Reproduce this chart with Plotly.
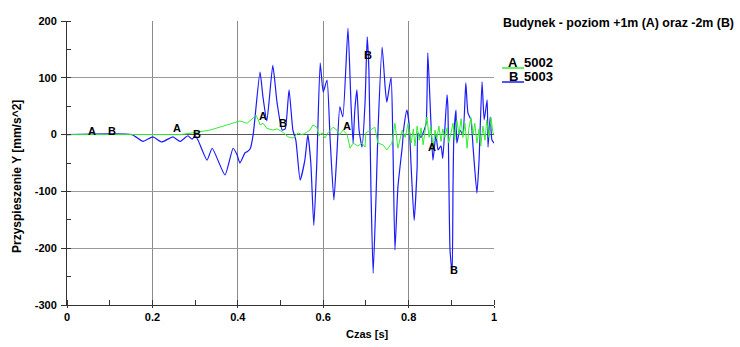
import plotly.graph_objects as go

# ---- data ----
t_b = [0.0, 0.152, 0.178, 0.201, 0.222, 0.248, 0.265, 0.283, 0.293, 0.300, 0.307,
       0.328, 0.340, 0.370, 0.389, 0.398, 0.405, 0.417, 0.422, 0.429, 0.436,
       0.452, 0.459, 0.468, 0.482, 0.492, 0.504, 0.511, 0.520, 0.529, 0.536,
       0.546, 0.557, 0.564, 0.571, 0.578, 0.585, 0.593, 0.600, 0.609, 0.616,
       0.625, 0.632, 0.639, 0.646, 0.658, 0.665, 0.670, 0.674, 0.679, 0.684,
       0.691, 0.698, 0.703, 0.707, 0.712, 0.717, 0.724, 0.728, 0.738, 0.745,
       0.749, 0.759, 0.763, 0.768, 0.775, 0.785, 0.789, 0.796, 0.801, 0.806,
       0.813, 0.820, 0.822, 0.829, 0.834, 0.841, 0.845, 0.852, 0.857, 0.864,
       0.869, 0.876, 0.880, 0.890, 0.892, 0.897, 0.902, 0.904, 0.906, 0.911,
       0.913, 0.920, 0.927, 0.934, 0.939, 0.946, 0.951, 0.960, 0.965, 0.972,
       0.977, 0.984, 0.986, 0.991, 0.995, 1.0]
y_b = [0, 0, -12, -4, -13, -4, -12, -2, -8, -2, -10,
       -45, -24, -71, -24, -35, -50, -32, -30, -25, 0,
       110, 66, 24, 122, 56, 8, 10, 79, 8, -10,
       -80, -45, 0, -50, -160, -50, 126, 75, 96, -5,
       -115, -35, 49, 31, 187, 56, -15, 43, 79, 8,
       -22, 56, 172, 114, -103, -244, -103, 0, 154, 84,
       57, 101, -4, -203, -92, -22, 13, 43, 20, -57,
       -151, -57, 3, -5, 3, 20, 144, 26, -45, 0,
       -27, -20, -42, 70, 49, -203, -244, -92, -4, 43,
       -15, 8, 0, 91, 38, 26, -22, -103, -45, 93,
       26, 61, -22, 31, -9, -15]

t_a = [0.0, 0.152, 0.265, 0.295, 0.335, 0.375, 0.405, 0.422, 0.436, 0.443, 0.450,
       0.452, 0.459, 0.468, 0.482, 0.492, 0.504, 0.518, 0.529, 0.541, 0.550,
       0.557, 0.569, 0.576, 0.585, 0.590, 0.597, 0.604, 0.611, 0.623, 0.632,
       0.639, 0.646, 0.656, 0.663, 0.670, 0.681, 0.691, 0.698, 0.700, 0.721,
       0.728, 0.740, 0.749, 0.761, 0.768, 0.775, 0.785, 0.792, 0.799, 0.806,
       0.811, 0.815, 0.820, 0.825, 0.829, 0.834, 0.838, 0.843, 0.848, 0.852,
       0.857, 0.862, 0.866, 0.871, 0.876, 0.880, 0.885, 0.890, 0.894, 0.899,
       0.904, 0.908, 0.913, 0.918, 0.923, 0.927, 0.932, 0.937, 0.941, 0.946,
       0.951, 0.955, 0.960, 0.965, 0.969, 0.974, 0.979, 0.983, 0.988, 0.993,
       0.997, 1.0]
y_a = [0, 0, 0, 3, 8, 17, 24, 20, 29, 34, 22,
       17, 20, 11, 8, 10, 5, -4, -6, 3, 0,
       2, 8, 17, 13, -2, 3, -6, 3, 13, 8,
       0, 8, 0, -24, -15, -20, -15, -22, 3, 13,
       -15, -18, -27, -15, 20, -24, 8, -5, 20, -15,
       10, -20, 15, -10, 12, -18, 5, 31, -5, 15,
       -25, 8, -8, 15, -12, 10, -5, 12, -15, 5,
       20, -10, 25, 0, 28, -5, 20, -24, 10, 30,
       0, 20, -15, 10, -20, 15, -10, 25, -5, 30,
       5, 0]

label_a_t = [0.059, 0.258, 0.459, 0.656, 0.855]
label_a_y = [0, 5, 26, 8, -29]
label_b_t = [0.105, 0.304, 0.506, 0.705, 0.906]
label_b_y = [0, -6, 13, 133, -245]

x_ticks = [0, 0.2, 0.4, 0.6, 0.8, 1]
x_tick_text = ["0", "0.2", "0.4", "0.6", "0.8", "1"]
y_ticks = [-300, -200, -100, 0, 100, 200]
y_tick_text = ["-300", "-200", "-100", "0", "100", "200"]

title_text = "Budynek - poziom +1m (A) oraz -2m (B)"
series_letters = ["A", "B"]
series_names = ["5002", "5003"]
x_title = "Czas [s]"
y_title = "Przyspieszenie Y [mm/s^2]"

BLUE = "#1a1aff"
GREEN = "#33ee33"
FONT = "Liberation Sans, Arial, sans-serif"

fig = go.Figure()
fig.add_trace(go.Scatter(x=t_b, y=y_b, mode="lines",
                         line=dict(color=BLUE, width=1.2, shape="spline", smoothing=0.5),
                         showlegend=False, hoverinfo="skip"))
fig.add_trace(go.Scatter(x=t_a, y=y_a, mode="lines",
                         line=dict(color=GREEN, width=1, shape="linear"),
                         showlegend=False, hoverinfo="skip"))

annos = []
for tt, yy in zip(label_a_t, label_a_y):
    annos.append(dict(x=tt, y=yy, xref="x", yref="y", text="<b>A</b>", showarrow=False,
                      xanchor="center", yanchor="middle", yshift=4,
                      font=dict(family=FONT, size=11, color="black")))
for tt, yy in zip(label_b_t, label_b_y):
    annos.append(dict(x=tt, y=yy, xref="x", yref="y", text="<b>B</b>", showarrow=False,
                      xanchor="center", yanchor="middle", yshift=4,
                      font=dict(family=FONT, size=11, color="black")))

L, R, T, B = 67, 494, 21, 305
W, H = 740, 347
pw, ph = R - L, B - T

def px(xp):
    return (xp - L) / pw

def py(yp):
    return (B - yp) / ph

annos.append(dict(x=px(501), y=py(23), xref="paper", yref="paper", xanchor="left",
                  yanchor="middle", text="<b>" + title_text + "</b>", showarrow=False,
                  font=dict(family=FONT, size=12.4, color="black")))
for i, yy in enumerate([62, 76]):
    annos.append(dict(x=px(513), y=py(yy), xref="paper", yref="paper", xanchor="center",
                      yanchor="middle", text="<b>" + series_letters[i] + "</b>", showarrow=False,
                      font=dict(family=FONT, size=13, color="black")))
    annos.append(dict(x=px(522), y=py(yy), xref="paper", yref="paper", xanchor="left",
                      yanchor="middle", text="<b>" + series_names[i] + "</b>", showarrow=False,
                      font=dict(family=FONT, size=13, color="black")))
annos.append(dict(x=px(367), y=py(334), xref="paper", yref="paper",
                  xanchor="center", yanchor="middle",
                  text="<b>" + x_title + "</b>", showarrow=False,
                  font=dict(family=FONT, size=11, color="black")))
annos.append(dict(x=px(17), y=py(177), xref="paper", yref="paper", textangle=-90,
                  xanchor="center", yanchor="middle",
                  text="<b>" + y_title + "</b>", showarrow=False,
                  font=dict(family=FONT, size=12, color="black")))

shapes = [
    dict(type="line", xref="paper", yref="paper", x0=px(502), x1=px(524), y0=py(68), y1=py(68),
         line=dict(color=GREEN, width=1.5)),
    dict(type="line", xref="paper", yref="paper", x0=px(502), x1=px(524), y0=py(82), y1=py(82),
         line=dict(color=BLUE, width=1.5)),
]

fig.update_layout(
    width=W, height=H,
    margin=dict(l=L, r=W - R, t=T, b=H - B, pad=0),
    paper_bgcolor="white", plot_bgcolor="white",
    annotations=annos, shapes=shapes,
    font=dict(family=FONT, size=11, color="black"),
)
fig.update_xaxes(range=[0, 1], tickvals=x_ticks, ticktext=["<b>%s</b>" % s for s in x_tick_text],
                 showgrid=True, gridcolor="#8a8a8a", gridwidth=1,
                 showline=True, linecolor="#333", linewidth=1,
                 ticks="outside", ticklen=2, tickcolor="#333",
                 minor=dict(ticks="inside", ticklen=5, dtick=0.1, tick0=0, tickcolor="#333", showgrid=False),
                 zeroline=False, tickfont=dict(family=FONT, size=11, color="black"))
fig.update_yaxes(range=[-300, 200], tickvals=y_ticks, ticktext=["<b>%s</b>" % s for s in y_tick_text],
                 showgrid=True, gridcolor="#9a9a9a", gridwidth=1,
                 showline=True, linecolor="#333", linewidth=1,
                 ticks="outside", ticklen=5, tickcolor="#333", ticklabelstandoff=2,
                 minor=dict(ticks="inside", ticklen=4, dtick=50, tick0=0, tickcolor="#333", showgrid=False),
                 zeroline=True, zerolinecolor="#555", zerolinewidth=1,
                 tickfont=dict(family=FONT, size=11, color="black"))

fig.write_html("out.html")
